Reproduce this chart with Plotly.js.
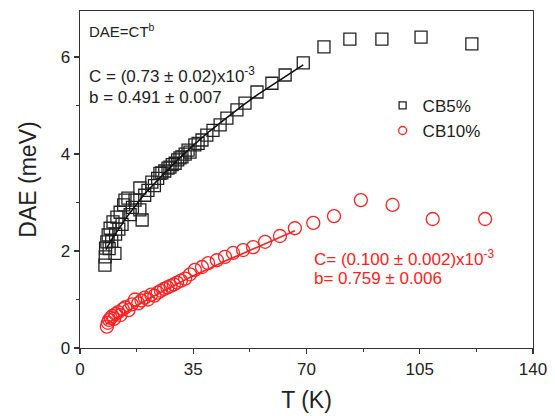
<!DOCTYPE html>
<html>
<head>
<meta charset="utf-8">
<script src="https://cdn.plot.ly/plotly-3.0.1.min.js"></script>
<style>html,body{margin:0;padding:0;background:#fff;}#chart{width:555px;height:416px;}</style>
</head>
<body>
<div id="chart"></div>
<script>
// CB5% measured data
var t5 = [7.7,7.8,7.9,8.3,8.7,9.3,9.0,9.8,10.2,10.8,11.0,11.4,12.0,12.4,13.0,13.5,13.9,14.8,15.5,16.2,17.0,18.5,18.5,19.2,20.0,21.0,22.2,23.0,24.0,24.7,25.3,26.2,27.2,27.8,28.5,29.4,30.2,30.9,31.5,32.5,33.4,34.0,35.5,36.5,37.7,39.2,41.1,43.3,45.4,48.5,51.0,54.7,59.3,63.4,69.0,75.4,83.4,93.3,105.4,121.1];
var dae5 = [1.71,1.88,2.06,2.19,2.33,2.47,2.05,2.20,2.60,1.95,2.35,2.70,2.45,2.80,2.55,2.95,3.05,3.09,2.75,2.90,3.05,2.85,3.30,2.64,3.15,3.25,3.42,3.35,3.50,3.60,3.61,3.65,3.71,3.73,3.78,3.81,3.88,3.92,3.94,4.00,4.08,4.04,4.19,4.22,4.29,4.39,4.49,4.60,4.74,4.91,5.05,5.28,5.46,5.63,5.88,6.21,6.37,6.37,6.41,6.27];
// CB10% measured data
var t10 = [8.3,8.6,9.0,9.5,10.0,10.5,11.0,11.8,12.5,13.2,14.0,15.0,16.0,17.0,18.0,19.0,20.0,21.0,22.0,23.0,24.0,25.0,26.0,27.0,28.0,29.0,30.0,31.2,32.5,34.0,35.5,37.7,39.6,42.3,44.8,47.3,50.4,53.5,57.2,61.8,66.4,72.1,78.5,86.8,96.6,109.0,125.2];
var dae10 = [0.44,0.52,0.58,0.62,0.66,0.60,0.70,0.74,0.68,0.80,0.84,0.78,0.90,1.00,0.92,0.98,1.04,1.00,1.10,1.08,1.14,1.18,1.22,1.25,1.28,1.31,1.35,1.39,1.43,1.52,1.61,1.67,1.75,1.81,1.88,1.96,2.02,2.08,2.19,2.31,2.47,2.58,2.72,3.05,2.95,2.66,2.66];
// Fit lines
var fitT5 = [8,10,15,20,25,30,35,40,45,50,55,60,65,69];
var fitD5 = [2.03,2.26,2.75,3.18,3.53,3.87,4.18,4.47,4.73,4.99,5.23,5.45,5.66,5.84];
var fitT10 = [8,10,15,20,25,30,35,40,45,50,55,60,66.4];
var fitD10 = [0.49,0.57,0.78,0.97,1.15,1.32,1.49,1.64,1.80,1.94,2.09,2.23,2.42];
// Labels
var names = ["CB5%","CB10%"];
var xTicks = [0,35,70,105,140];
var yTicks = [0,2,4,6];

var RED = "#f22";
var FONT = "Arial, 'Liberation Sans', sans-serif";

var traces = [
  {x:t5, y:dae5, mode:"markers", type:"scatter", showlegend:false,
   marker:{symbol:"square-open", size:12, color:"#222", line:{width:1.3, color:"#222"}}},
  {x:t10, y:dae10, mode:"markers", type:"scatter", showlegend:false,
   marker:{symbol:"circle-open", size:13, color:RED, line:{width:1.3, color:RED}}},
  {x:fitT5, y:fitD5, mode:"lines", type:"scatter", showlegend:false, line:{color:"#111", width:1.6}},
  {x:fitT10, y:fitD10, mode:"lines", type:"scatter", showlegend:false, line:{color:RED, width:1.6}},
  {x:[null], y:[null], mode:"markers", type:"scatter", name:names[0],
   marker:{symbol:"square-open", size:7, color:"#222", line:{width:1.3, color:"#222"}}},
  {x:[null], y:[null], mode:"markers", type:"scatter", name:names[1],
   marker:{symbol:"circle-open", size:8, color:RED, line:{width:1.3, color:RED}}}
];

var layout = {
  width:555, height:416,
  margin:{l:80, r:22, t:11, b:68},
  paper_bgcolor:"#fff", plot_bgcolor:"#fff",
  font:{family:FONT, color:"#222"},
  showlegend:true,
  legend:{x:0.668, y:0.772, xanchor:"left", yanchor:"top", bgcolor:"rgba(0,0,0,0)",
          font:{size:17, color:"#222", family:FONT}, tracegroupgap:0},
  xaxis:{range:[0,140], tickvals:xTicks, ticktext:xTicks.map(String), ticks:"outside", ticklen:5, tickwidth:1.2,
         tickcolor:"#333", showline:true, linecolor:"#333", linewidth:1.4, mirror:true, showgrid:false, zeroline:false,
         minor:{tickvals:[17.5,52.5,87.5,122.5], ticks:"outside", ticklen:3, tickcolor:"#333"},
         tickfont:{size:17, color:"#222", family:FONT},
         title:{text:"T (K)", font:{size:23, color:"#222", family:FONT}, standoff:14}},
  yaxis:{range:[0,6.95], tickvals:yTicks, ticktext:yTicks.map(String), ticks:"outside", ticklen:5, tickwidth:1.2,
         tickcolor:"#333", showline:true, linecolor:"#333", linewidth:1.4, mirror:true, showgrid:false, zeroline:false,
         minor:{tickvals:[1,3,5], ticks:"outside", ticklen:3, tickcolor:"#333"},
         tickfont:{size:17, color:"#222", family:FONT},
         title:{text:"DAE (meV)", font:{size:23, color:"#222", family:FONT}, standoff:17}},
  annotations:[
    {xref:"paper", yref:"paper", x:0.015, y:0.975, xanchor:"left", yanchor:"top", showarrow:false,
     text:"DAE=CT<sup>b</sup>", font:{size:15, color:"#222", family:FONT}},
    {xref:"paper", yref:"paper", x:0.015, y:0.81, xanchor:"left", yanchor:"middle", showarrow:false,
     text:"C = (0.73 ± 0.02)x10<sup>-3</sup>", font:{size:17, color:"#222", family:FONT}},
    {xref:"paper", yref:"paper", x:0.015, y:0.742, xanchor:"left", yanchor:"middle", showarrow:false,
     text:"b = 0.491 ± 0.007", font:{size:17, color:"#222", family:FONT}},
    {xref:"paper", yref:"paper", x:0.512, y:0.267, xanchor:"left", yanchor:"middle", showarrow:false,
     text:"C= (0.100 ± 0.002)x10<sup>-3</sup>", font:{size:17, color:RED, family:FONT}},
    {xref:"paper", yref:"paper", x:0.512, y:0.205, xanchor:"left", yanchor:"middle", showarrow:false,
     text:"b= 0.759 ± 0.006", font:{size:17, color:RED, family:FONT}}
  ]
};

Plotly.newPlot("chart", traces, layout, {displayModeBar:false, staticPlot:true});
</script>
</body>
</html>
